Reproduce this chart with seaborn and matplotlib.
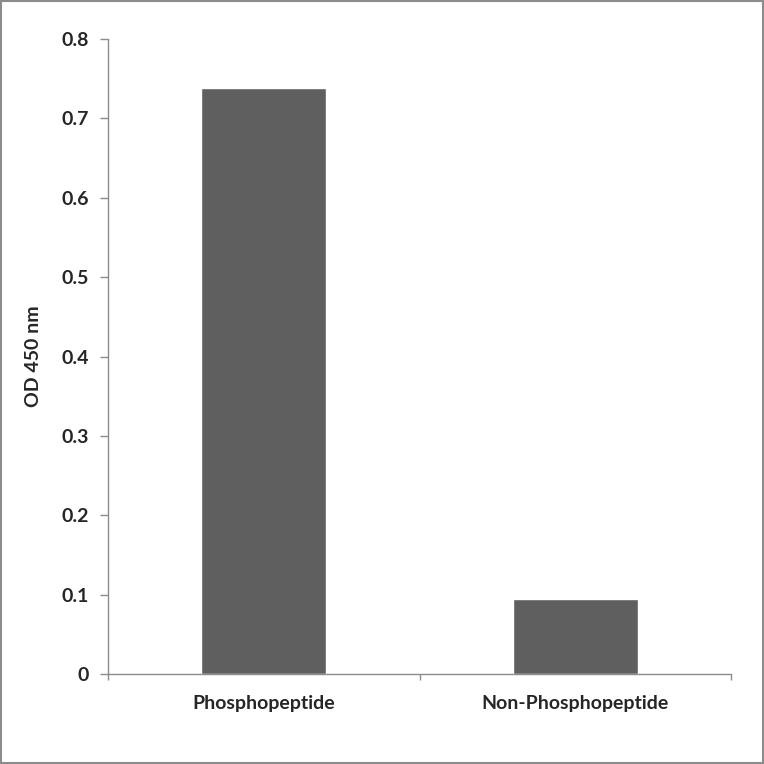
import numpy as np
import pandas as pd
import matplotlib
matplotlib.use("Agg")
import matplotlib.pyplot as plt
import seaborn as sns

categories = ["Phosphopeptide", "Non-Phosphopeptide"]
od450 = [0.738, 0.094]
y_ticks = [0, 0.1, 0.2, 0.3, 0.4, 0.5, 0.6, 0.7, 0.8]
y_tick_labels = ["0", "0.1", "0.2", "0.3", "0.4", "0.5", "0.6", "0.7", "0.8"]

sns.set_style("white")
plt.rcParams['font.family'] = ['Lato', 'DejaVu Sans']
plt.rcParams['xtick.bottom'] = True
plt.rcParams['ytick.left'] = True

df = pd.DataFrame({"sample": categories, "od": od450})

fig = plt.figure(figsize=(7.64, 7.64), dpi=100)
ax = fig.add_axes([108/764, 90/764, 623/764, 635/764])

sns.barplot(data=df, x="sample", y="od", color="#5f5f5f", saturation=1,
            width=0.4, ax=ax)

axis_col = "#8c8c8c"
fs = 14
ax.set_xlim(-0.5, 1.5)
ax.set_ylim(0, 0.8)
ax.set_yticks(y_ticks)
ax.set_yticklabels(y_tick_labels, fontsize=fs, fontweight="bold")
ax.set_xticks([0, 1])
ax.set_xticklabels(categories, fontsize=fs, fontweight="bold")
ax.set_xticks([-0.5, 0.5, 1.5], minor=True)
ax.tick_params(axis="x", which="major", bottom=False, length=0, pad=15)
ax.tick_params(axis="x", which="minor", bottom=True, length=4.5, width=1,
               color=axis_col, direction="out")
ax.tick_params(axis="y", left=True, length=5.8, width=1, color=axis_col,
               direction="out", pad=8)
ax.set_xlabel("")
ax.set_ylabel("OD 450 nm", fontsize=fs, fontweight="bold", labelpad=14)

for side in ["top", "right"]:
    ax.spines[side].set_visible(False)
for side in ["left", "bottom"]:
    ax.spines[side].set_color(axis_col)
    ax.spines[side].set_linewidth(1)

# outer frame around the whole picture
fig.patches.append(plt.Rectangle((0.001, 0.001), 0.998, 0.998, transform=fig.transFigure,
                                 fill=False, edgecolor="#8c8c8c", linewidth=1.5))

fig.savefig("out.png", dpi=100)
